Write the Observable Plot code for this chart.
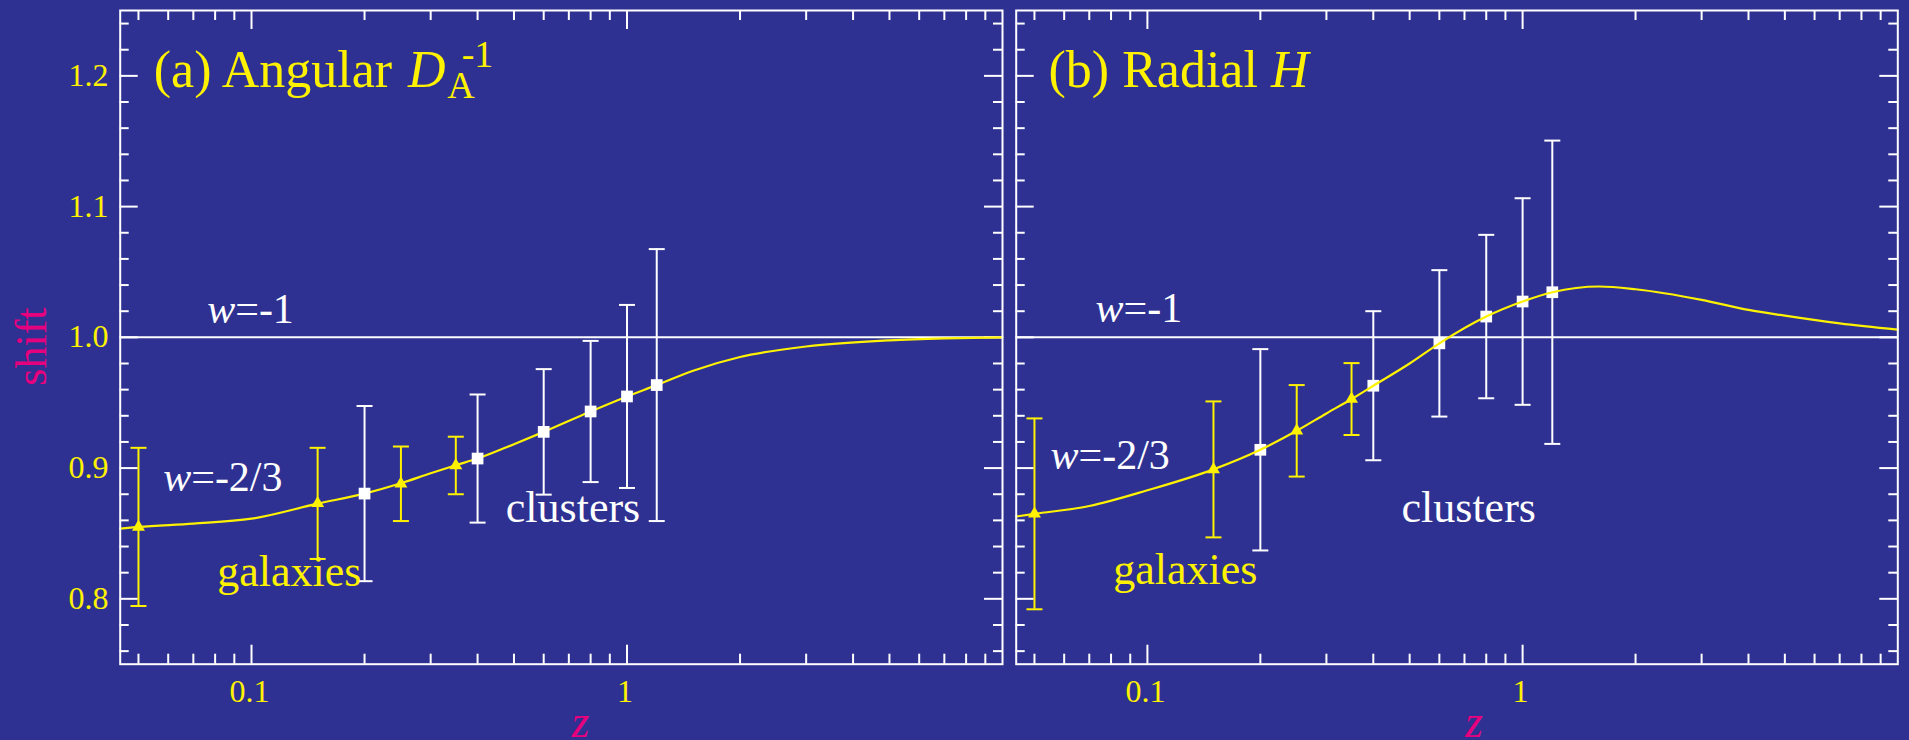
<!DOCTYPE html>
<html>
<head>
<meta charset="utf-8">
<script src="https://cdn.jsdelivr.net/npm/d3@7"></script>
<script src="https://cdn.jsdelivr.net/npm/@observablehq/plot@0.6"></script>
<style>
  html, body { margin: 0; padding: 0; background: #2e3192; overflow: hidden; }
  #chart { position: relative; width: 1909px; height: 740px; background: #2e3192; }
  #chart svg { position: absolute; top: 0; }
  #chart svg text { font-family: "Liberation Serif", "Times New Roman", "DejaVu Serif", serif !important; }
</style>
</head>
<body>
<div id="chart"></div>
<script>
// Redshifts of the two survey samples
const zGalaxies = [0.05, 0.15, 0.25, 0.35];
const zClusters = [0.2, 0.4, 0.6, 0.8, 1.0, 1.2];

// (a) angular shift D_A^-1
const angularGalaxies    = [0.855, 0.873, 0.888, 0.902];
const angularGalaxiesErr = [0.0605, 0.0425, 0.0285, 0.022];
const angularClusters    = [0.8805, 0.9073, 0.9277, 0.9433, 0.9548, 0.9635];
const angularClustersErr = [0.067, 0.049, 0.048, 0.054, 0.070, 0.104];

// (b) radial shift H
const radialGalaxies    = [0.865, 0.899, 0.9285, 0.9528];
const radialGalaxiesErr = [0.073, 0.052, 0.035, 0.0275];
const radialClusters    = [0.914, 0.963, 0.9954, 1.0159, 1.0274, 1.0345];
const radialClustersErr = [0.077, 0.057, 0.056, 0.0625, 0.079, 0.116];

// w = -2/3 model curves
const angularCurveZ = [0.0447, 0.05, 0.07, 0.1, 0.15, 0.2, 0.25, 0.3, 0.35, 0.4, 0.5, 0.6, 0.8, 1.0, 1.2, 1.5, 2, 3, 5, 7, 10];
const angularCurve  = [0.8537, 0.855, 0.8575, 0.8613, 0.8728, 0.8805, 0.8884, 0.896, 0.9022, 0.9073, 0.9183, 0.9277, 0.9433, 0.9548, 0.9635, 0.9745, 0.985, 0.993, 0.9977, 0.9992, 1.0];
const radialCurveZ  = [0.0447, 0.05, 0.07, 0.1, 0.15, 0.2, 0.25, 0.3, 0.35, 0.4, 0.5, 0.6, 0.8, 1.0, 1.2, 1.6, 2, 3, 4, 5, 7, 10];
const radialCurve   = [0.863, 0.865, 0.871, 0.883, 0.899, 0.914, 0.9285, 0.9418, 0.9528, 0.963, 0.980, 0.9954, 1.0159, 1.0274, 1.0345, 1.0389, 1.0368, 1.0287, 1.021, 1.0166, 1.0107, 1.0059];

// Axis ticks and labels
const xMajorTicks = [0.1, 1];
const xMinorTicks = [0.05, 0.06, 0.07, 0.08, 0.09, 0.2, 0.3, 0.4, 0.5, 0.6, 0.7, 0.8, 0.9, 2, 3, 4, 5, 6, 7, 8, 9];
const xTickLabels = ["0.1", "1"];
const yMajorTicks = [0.8, 0.9, 1.0, 1.1, 1.2];
const yMinorTicks = [0.76, 0.78, 0.82, 0.84, 0.86, 0.88, 0.92, 0.94, 0.96, 0.98, 1.02, 1.04, 1.06, 1.08, 1.12, 1.14, 1.16, 1.18, 1.22, 1.24];
const yTickLabels = ["0.8", "0.9", "1.0", "1.1", "1.2"];

const BG = "#2e3192", YELLOW = "#fff200", WHITE = "#ffffff", MAGENTA = "#e6007e";
const FONT = "'Liberation Serif', 'Times New Roman', serif";
const H = 740, MT = 10, MB = 76.3;
const FH = H - MT - MB;

const zip = (z, v, e) => z.map((d, i) => ({z: d, v: v[i], e: e ? e[i] : 0}));

// horizontal bar used as an error-bar cap
const capSymbol = {
  draw(context, size) {
    const r = Math.sqrt(size / Math.PI);
    context.moveTo(-r, 0);
    context.lineTo(r, 0);
  }
};

function txt(s, o) {
  return Plot.text([s], {
    text: d => d, frameAnchor: "top-left", textAnchor: "start", lineAnchor: "bottom",
    fontFamily: FONT, ...o
  });
}

function errorBars(rows, color) {
  return [
    Plot.ruleX(rows, {x: "z", y1: d => d.v - d.e, y2: d => d.v + d.e, stroke: color, strokeWidth: 2}),
    Plot.dot(rows, {x: "z", y: d => d.v - d.e, symbol: capSymbol, r: 8, stroke: color, strokeWidth: 2, fill: "none"}),
    Plot.dot(rows, {x: "z", y: d => d.v + d.e, symbol: capSymbol, r: 8, stroke: color, strokeWidth: 2, fill: "none"})
  ];
}

function panel({width, marginLeft, marginRight, galaxies, clusters, curve, curveOnTop, title, labels, yAxis}) {
  const FW = width - marginLeft - marginRight;
  const curveMark = Plot.line(curve, {x: "z", y: "v", stroke: YELLOW, strokeWidth: 2.2, curve: "monotone-x"});
  const tickStyle = {stroke: WHITE, strokeWidth: 2};
  return Plot.plot({
    width, height: H, marginLeft, marginRight, marginTop: MT, marginBottom: MB,
    style: {background: BG, fontFamily: FONT, overflow: "visible"},
    x: {type: "log", domain: [0.0447, 10], axis: null},
    y: {domain: [0.75, 1.25], axis: null},
    marks: [
      // ticks on all four sides, pointing inward
      Plot.tickX(xMinorTicks, {x: d => d, ...tickStyle, insetTop: FH - 10}),
      Plot.tickX(xMinorTicks, {x: d => d, ...tickStyle, insetBottom: FH - 10}),
      Plot.tickX(xMajorTicks, {x: d => d, ...tickStyle, insetTop: FH - 19}),
      Plot.tickX(xMajorTicks, {x: d => d, ...tickStyle, insetBottom: FH - 19}),
      Plot.tickY(yMinorTicks, {y: d => d, ...tickStyle, insetRight: FW - 9}),
      Plot.tickY(yMinorTicks, {y: d => d, ...tickStyle, insetLeft: FW - 9}),
      Plot.tickY(yMajorTicks, {y: d => d, ...tickStyle, insetRight: FW - 18}),
      Plot.tickY(yMajorTicks, {y: d => d, ...tickStyle, insetLeft: FW - 18}),
      // w = -1 reference
      Plot.ruleY([1], {stroke: WHITE, strokeWidth: 2}),
      curveOnTop ? null : curveMark,
      ...errorBars(galaxies, YELLOW),
      ...errorBars(clusters, WHITE),
      Plot.dot(galaxies, {x: "z", y: "v", symbol: "triangle", r: 4.8, fill: YELLOW}),
      Plot.dot(clusters, {x: "z", y: "v", symbol: "square", r: 6.6, fill: WHITE}),
      curveOnTop ? curveMark : null,
      Plot.frame({stroke: WHITE, strokeWidth: 2}),
      // x tick labels
      Plot.text(xMajorTicks, {x: d => d, frameAnchor: "bottom", text: (d, i) => xTickLabels[i],
        dy: 38, dx: -2, textAnchor: "middle", lineAnchor: "bottom", fill: YELLOW, fontSize: 32, fontFamily: FONT}),
      // y tick labels
      yAxis ? Plot.text(yMajorTicks, {y: d => d, frameAnchor: "left", text: (d, i) => yTickLabels[i],
        dx: -11.7, dy: 10, textAnchor: "end", lineAnchor: "bottom", fill: YELLOW, fontSize: 32, fontFamily: FONT}) : null,
      yAxis ? Plot.text(["shift"], {frameAnchor: "left", text: d => d, dx: -74.7, dy: 9.2, rotate: -90,
        textAnchor: "middle", lineAnchor: "bottom", fill: MAGENTA, fontSize: 44, fontFamily: FONT}) : null,
      Plot.text(["z"], {frameAnchor: "bottom", text: d => d, dx: labels.zdx, dy: 73, textAnchor: "middle",
        lineAnchor: "bottom", fill: MAGENTA, fontSize: 46, fontStyle: "italic", fontFamily: FONT}),
      // panel title
      ...title,
      // annotations
      txt("w", {dx: labels.w1[0], dy: labels.w1[1], fill: WHITE, fontSize: 42, fontStyle: "italic"}),
      txt("=-1", {dx: labels.w1[0] + 28, dy: labels.w1[1], fill: WHITE, fontSize: 42}),
      txt("w", {dx: labels.w23[0], dy: labels.w23[1], fill: WHITE, fontSize: 42, fontStyle: "italic"}),
      txt("=-2/3", {dx: labels.w23[0] + 28, dy: labels.w23[1], fill: WHITE, fontSize: 42}),
      txt("galaxies", {dx: labels.gal[0], dy: labels.gal[1], fill: YELLOW, fontSize: 44}),
      txt("clusters", {dx: labels.clu[0], dy: labels.clu[1], fill: WHITE, fontSize: 44})
    ]
  });
}

const chart = document.getElementById("chart");

const left = panel({
  width: 1009, marginLeft: 119.7, marginRight: 7,
  galaxies: zip(zGalaxies, angularGalaxies, angularGalaxiesErr),
  clusters: zip(zClusters, angularClusters, angularClustersErr),
  curve: zip(angularCurveZ, angularCurve),
  curveOnTop: false,
  yAxis: true,
  title: [
    txt("(a) Angular", {dx: 33.6, dy: 76.7, fill: YELLOW, fontSize: 52}),
    txt("D", {dx: 287.7, dy: 76.7, fill: YELLOW, fontSize: 52, fontStyle: "italic"}),
    txt("A", {dx: 327, dy: 87.3, fill: YELLOW, fontSize: 38}),
    txt("-1", {dx: 341.5, dy: 56.7, fill: YELLOW, fontSize: 38})
  ],
  labels: {w1: [87, 312.7], w23: [43, 480], gal: [97, 575], clu: [385.6, 511.7], zdx: 19}
});
left.style.left = "0px";
chart.appendChild(left);

const right = panel({
  width: 900, marginLeft: 6.7, marginRight: 11.7,
  galaxies: zip(zGalaxies, radialGalaxies, radialGalaxiesErr),
  clusters: zip(zClusters, radialClusters, radialClustersErr),
  curve: zip(radialCurveZ, radialCurve),
  curveOnTop: true,
  yAxis: false,
  title: [
    txt("(b) Radial", {dx: 32.3, dy: 76.7, fill: YELLOW, fontSize: 52}),
    txt("H", {dx: 254.7, dy: 76.7, fill: YELLOW, fontSize: 52, fontStyle: "italic"})
  ],
  labels: {w1: [79.3, 311.7], w23: [34.3, 458.3], gal: [97, 573.3], clu: [385.3, 511.7], zdx: 17}
});
right.style.left = "1009px";
chart.appendChild(right);
</script>
</body>
</html>
